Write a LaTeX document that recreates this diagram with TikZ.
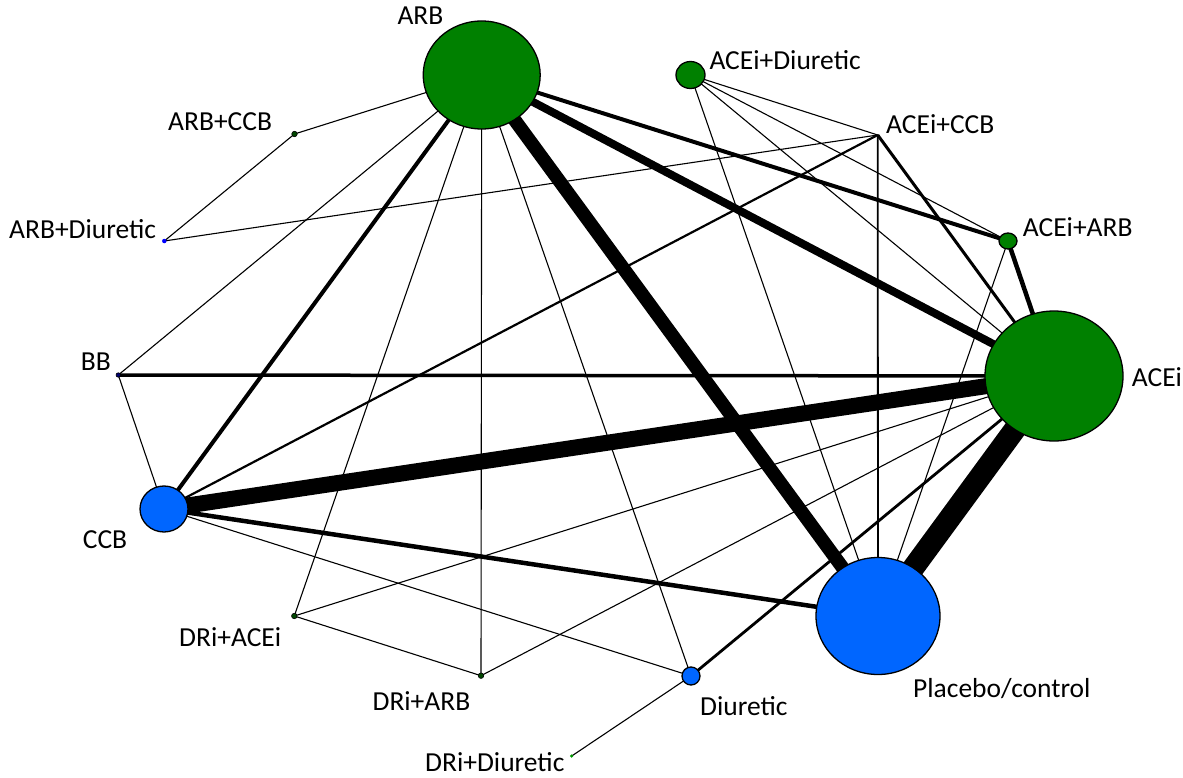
\documentclass[tikz,border=0pt]{standalone}
\usepackage{fontspec}
\setmainfont{Carlito}
\usetikzlibrary{shapes.geometric}
\pgfdeclarelayer{background}
\pgfsetlayers{background,main}
\definecolor{armgreen}{RGB}{0,128,0}
\definecolor{armblue}{RGB}{0,102,255}
\definecolor{dotgreen}{RGB}{0,70,0}
\definecolor{dotblue}{RGB}{0,0,110}

\begin{document}
\begin{tikzpicture}[x=1pt,y=-1pt,
  arm/.style={ellipse,draw=black,line width=1.3pt,inner sep=0pt},
  dot/.style={circle,draw=black,line width=0.6pt,inner sep=0pt,minimum size=5.5pt},
  lbl/.style={anchor=base west,inner sep=0pt,font=\fontsize{27.5}{33}\selectfont},
  link/.style={line width=#1pt},
  link/.default=1.1]
\useasboundingbox (0,0) rectangle (1183,778);

% Treatment nodes
\node[arm,fill=armgreen,minimum width=117pt,minimum height=108pt] (arb) at (481.7,75) {};
\node[arm,fill=armgreen,minimum width=138pt,minimum height=130pt] (acei) at (1054,376) {};
\node[arm,fill=armblue,minimum width=124pt,minimum height=117pt] (placebo) at (878,616) {};
\node[arm,fill=armblue,minimum width=48pt,minimum height=46pt] (ccb) at (164,509) {};
\node[arm,fill=armgreen,minimum width=29pt,minimum height=27pt] (aceidiur) at (690.5,75) {};
\node[arm,fill=armgreen,minimum width=18pt,minimum height=16pt] (aceiarb) at (1008,241) {};
\node[arm,fill=armblue,minimum width=18pt,minimum height=18pt] (diur) at (691,676) {};
\node[dot,fill=dotgreen] (arbccb) at (294.5,134) {};
\node[dot,fill=blue,draw=none,minimum size=4.5pt] (arbdiur) at (164.3,241) {};
\node[dot,fill=dotblue,minimum size=4.5pt] (bb) at (118.3,375) {};
\node[inner sep=0pt,minimum size=0pt] (aceiccb) at (877.7,135) {};
\node[dot,fill=dotgreen] (driacei) at (294.3,616) {};
\node[dot,fill=dotgreen] (driarb) at (481,675.7) {};
\node[dot,fill=green!60!black,draw=none,minimum size=3.5pt] (dridiur) at (571.7,756) {};

% Labels
\node[lbl] (lblarb) at (397.3,25) {ARB};
\node[lbl] (lblaceidiur) at (709.3,70) {ACEi+Diuretic};
\node[lbl] (lblarbccb) at (168,131) {ARB+CCB};
\node[lbl] (lblaceiccb) at (886,134) {ACEi+CCB};
\node[lbl] (lblarbdiur) at (9,238) {ARB+Diuretic};
\node[lbl] (lblaceiarb) at (1022.7,236.5) {ACEi+ARB};
\node[lbl] (lblbb) at (80.7,370) {BB};
\node[lbl] (lblacei) at (1131.7,386.5) {ACEi};
\node[lbl] (lblccb) at (82.7,548) {CCB};
\node[lbl] (lblplacebo) at (913,697) {Placebo/control};
\node[lbl] (lbldriacei) at (179,646.5) {DRi+ACEi};
\node[lbl] (lbldriarb) at (372.4,710) {DRi+ARB};
\node[lbl] (lbldiur) at (700,715) {Diuretic};
\node[lbl] (lbldridiur) at (425,771) {DRi+Diuretic};

% Comparisons
\begin{pgfonlayer}{background}
% from ARB
\draw[link] (arb.center) -- (arbccb.center);
\draw[link] (arb.center) -- (bb.center);
\draw[link=4] (arb.center) -- (ccb.center);
\draw[link] (arb.center) -- (driacei.center);
\draw[link] (arb.center) -- (driarb.center);
\draw[link] (arb.center) -- (diur.center);
\draw[link=13.5] (arb.center) -- (placebo.center);
\draw[link=8] (arb.center) -- (acei.center);
\draw[link=4] (arb.center) -- (aceiarb.center);
% left side
\draw[link] (arbccb.center) -- (arbdiur.center);
\draw[link] (arbdiur.center) -- (aceiccb.center);
\draw[link=3.5] (bb.center) -- (acei.center);
\draw[link] (bb.center) -- (ccb.center);
% from CCB
\draw[link=16] (ccb.center) -- (acei.center);
\draw[link=2.2] (ccb.center) -- (aceiccb.center);
\draw[link=4.5] (ccb.center) -- (placebo.center);
\draw[link] (ccb.center) -- (diur.center);
% bottom
\draw[link] (driacei.center) -- (acei.center);
\draw[link] (driacei.center) -- (driarb.center);
\draw[link] (driarb.center) -- (acei.center);
\draw[link=2.8] (diur.center) -- (acei.center);
\draw[link] (diur.center) -- (dridiur.center);
% right side
\draw[link] (aceidiur.center) -- (aceiccb.center);
\draw[link] (aceidiur.center) -- (aceiarb.center);
\draw[link] (aceidiur.center) -- (acei.center);
\draw[link] (aceidiur.center) -- (placebo.center);
\draw[link=1.8] (aceiccb.center) -- (placebo.center);
\draw[link=3] (aceiccb.center) -- (acei.center);
\draw[link=4.5] (aceiarb.center) -- (acei.center);
\draw[link] (aceiarb.center) -- (placebo.center);
\draw[link=22] (acei.center) -- (placebo.center);
\end{pgfonlayer}

\end{tikzpicture}
\end{document}
